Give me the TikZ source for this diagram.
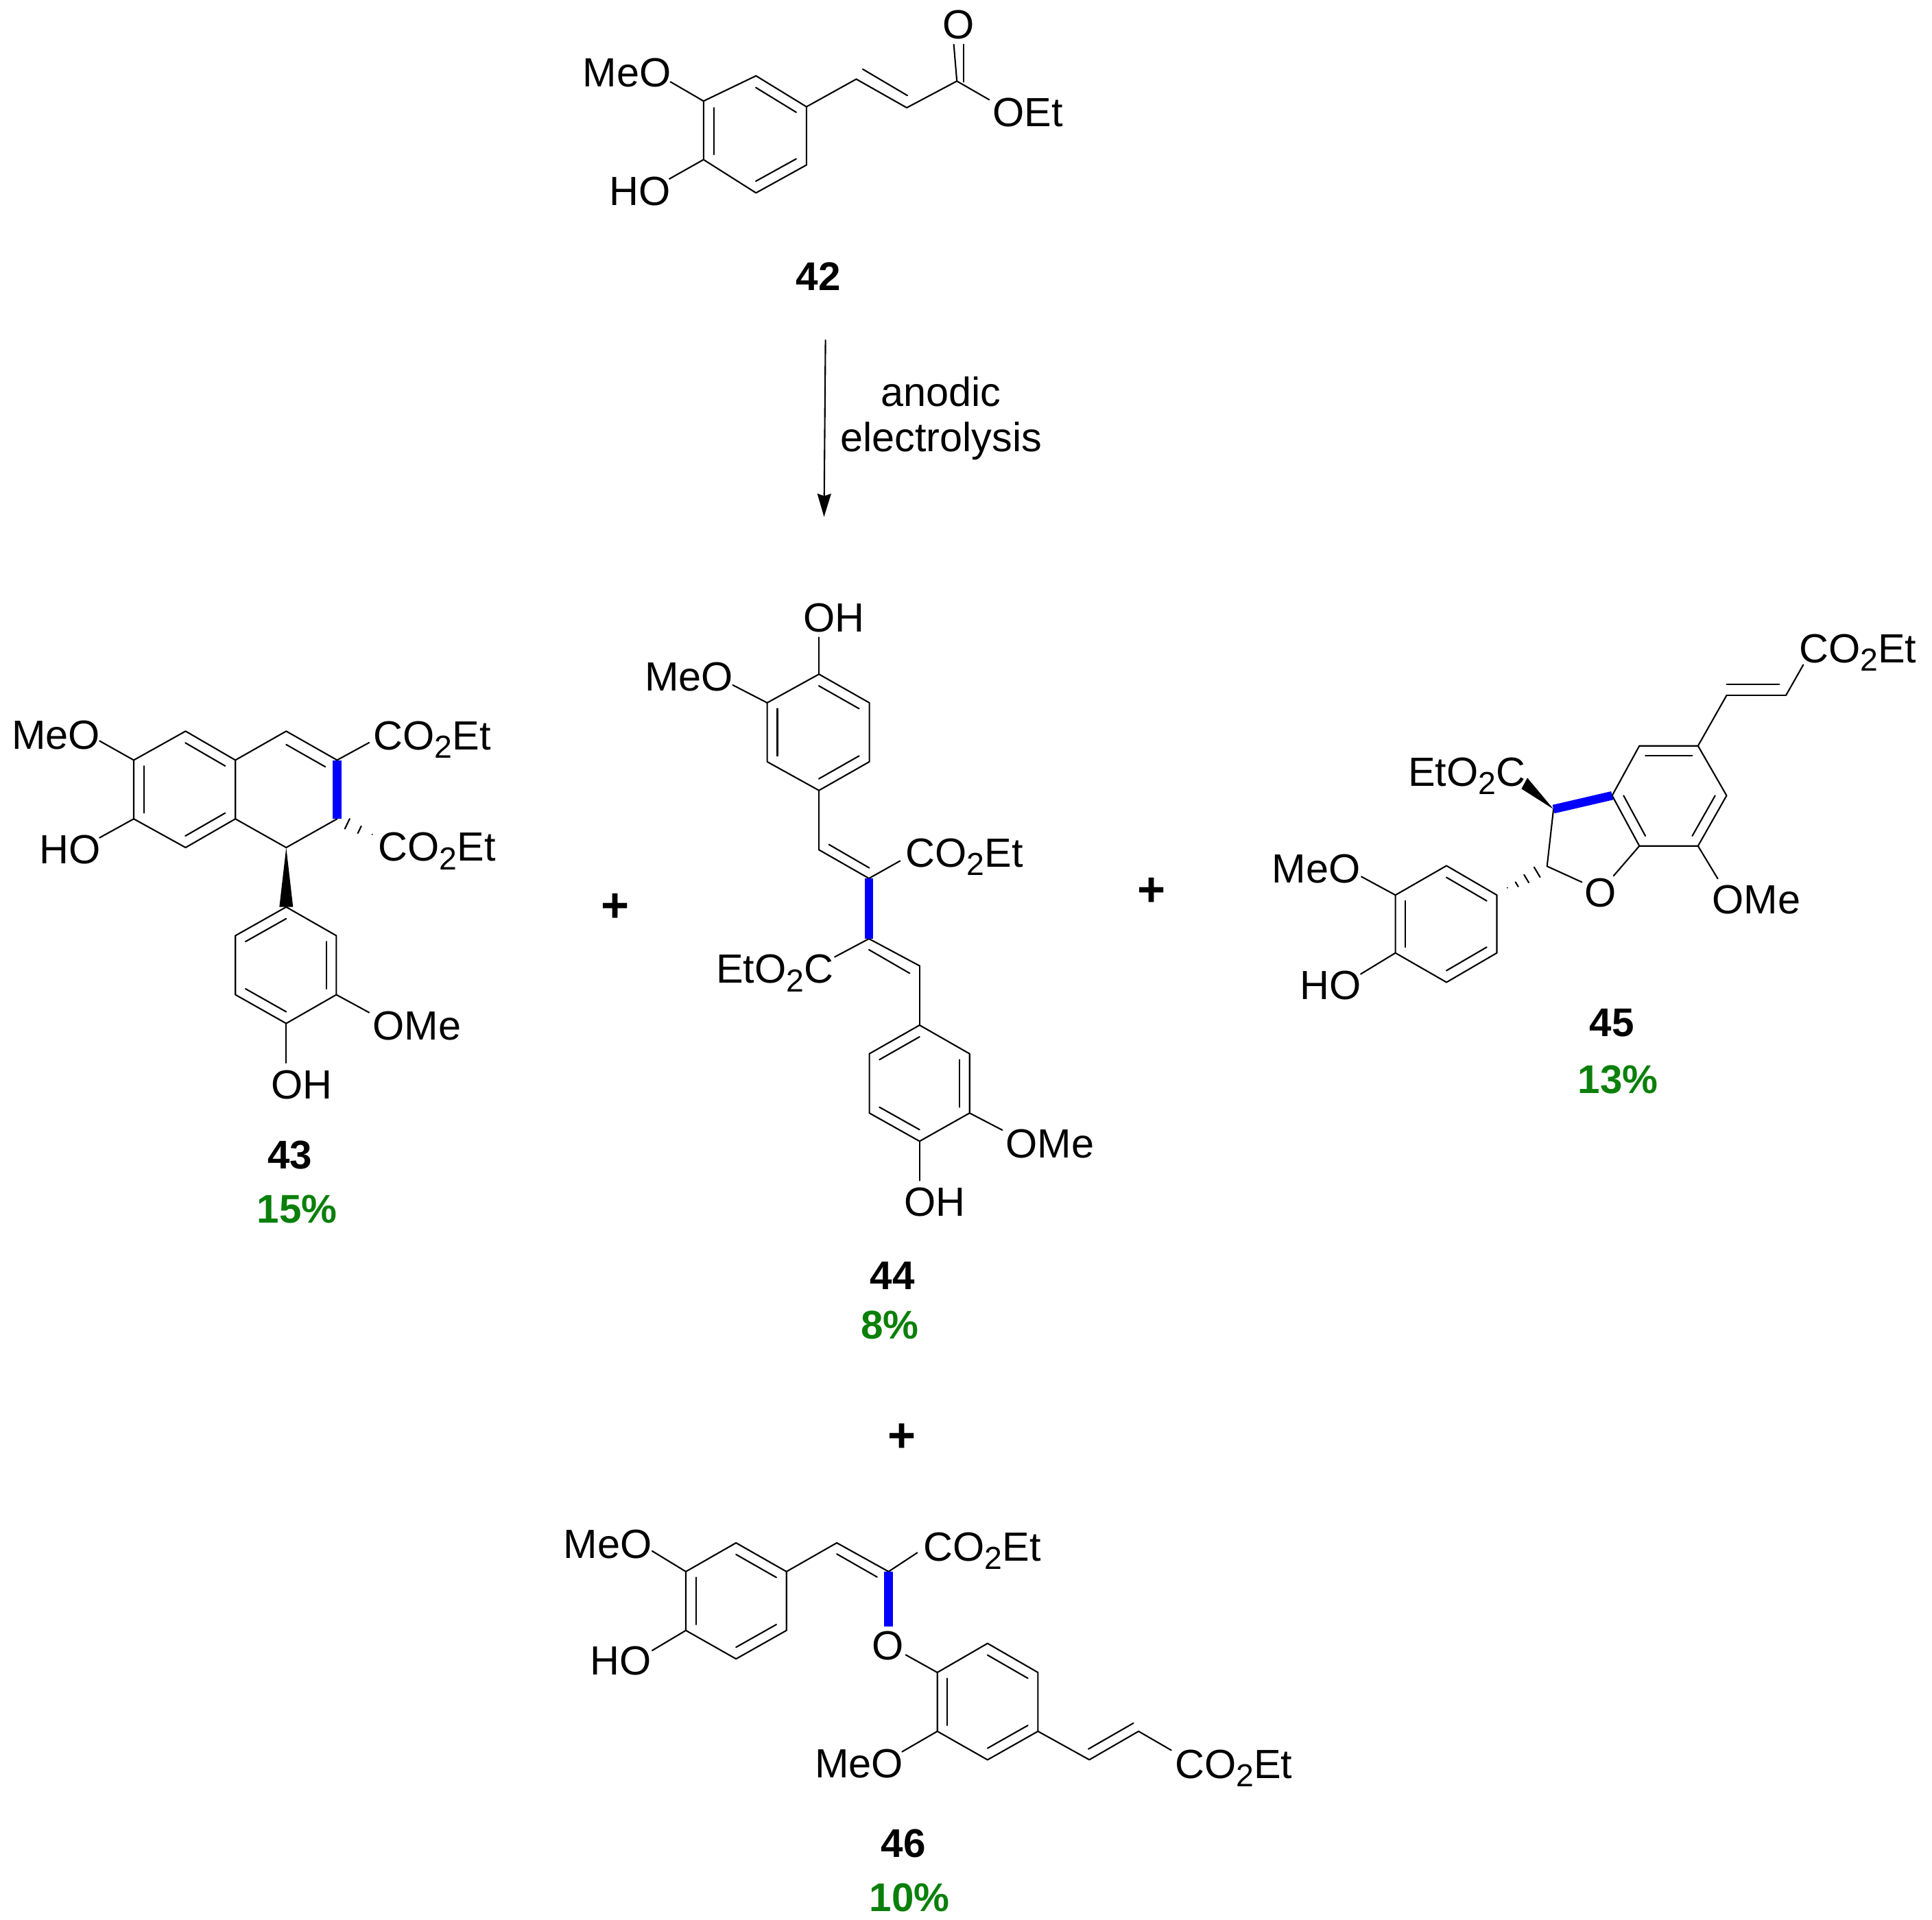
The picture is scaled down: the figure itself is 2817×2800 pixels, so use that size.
\documentclass[tikz,border=0pt]{standalone}
\usepackage{fontspec}
\setmainfont{Liberation Sans}
\usetikzlibrary{calc,arrows.meta}
\definecolor{bondblue}{RGB}{0,0,255}
\definecolor{yieldgreen}{RGB}{10,128,10}
\newcommand{\subtwo}{\raisebox{-3.6pt}{\fontsize{13.2}{13}\selectfont 2}}
\newcommand{\coet}{CO\subtwo Et}
\newcommand{\etoc}{EtO\subtwo C}
\newcommand{\hashbond}[3]{\foreach \pos/\wid in {#3}
	\draw[bond] ($(#1)!\pos!(#2)!\wid pt!90:(#2)$)--($(#1)!\pos!(#2)!\wid pt!-90:(#2)$);}
\newcommand{\innerdbl}[2]{\foreach \p/\q in {#2}
	\draw[bond] ($(\p)!.2!(#1)$)--($(\q)!.2!(#1)$);}
\tikzset{
	bond/.style={line width=.6pt},
	hibond/.style={line width=3.6pt,color=bondblue,line cap=butt},
	lab/.style={inner sep=0pt},
	num/.style={inner sep=0pt,anchor=base,font=\fontsize{16.6}{20}\selectfont\bfseries},
	yield/.style={num,text=yieldgreen},
	plus/.style={inner sep=0pt,font=\fontsize{20}{20}\selectfont\bfseries}
}
\begin{document}
\begin{tikzpicture}[x=.01cm,y=-.01cm,>={Stealth[length=9.6pt,width=5.7pt,inset=1pt]},font=\fontsize{16.9}{20}\selectfont,line join=round,line cap=round]
	\useasboundingbox (0,0) rectangle (2817,2800);
	% 42
	\path (1102.3,110.6) coordinate (a1) (1175.9,155.7) coordinate (a2) (1175.9,240.6) coordinate (a3)
	(1102.3,281.3) coordinate (a4) (1025.8,232.8) coordinate (a5) (1025.8,147.4) coordinate (a6)
	(1101,196) coordinate (ac) (1248.5,115.4) coordinate (a7) (1322.1,157.1) coordinate (a8)
	(1395.2,118.3) coordinate (a9) (1442.4,145.5) coordinate (a10) (977.5,119.3) coordinate (a11)
	(976,260.9) coordinate (a12) (1390.7,65) coordinate (a13) (1404.7,65) coordinate (a15)
	(1404.7,119.3) coordinate (a16) (1258,100.9) coordinate (a17) (1323,139.3) coordinate (a18);
	\draw[bond] (a1)--(a2)--(a3)--(a4)--(a5)--(a6)--cycle;
	\innerdbl{ac}{a1/a2,a3/a4,a5/a6}
	\foreach \p/\q in {a2/a7,a7/a8,a8/a9,a9/a10,a6/a11,a5/a12,a9/a13,a15/a16,a17/a18}
	\draw[bond] (\p)--(\q);
	\node[lab,anchor=base east] (meoA) at (979,127) {MeO};
	\node[lab,anchor=base east] (hoA) at (978,300) {HO};
	\node[lab,anchor=base] (oA) at (1398,56.2) {O};
	\node[lab,anchor=base west] (oetA) at (1447,185) {OEt};
	\node[num] (n42) at (1193,423) {42};
	% arrow
	\coordinate (s1) at (1203.6,496);
	\coordinate (s2) at (1201.5,753.7);
	\draw[bond,->] (s1)--(s2);
	\node[lab,align=center,font=\fontsize{16.9}{18.8}\selectfont] (cond) at (1372,610) {anodic\\electrolysis};
	% 43
	\path (270.6,1066.3) coordinate (b1) (343.2,1108.5) coordinate (b2) (343.2,1194.2) coordinate (b3)
	(270.6,1236) coordinate (b4) (195,1194.2) coordinate (b5) (195,1108.5) coordinate (b6)
	(269,1151.3) coordinate (bc) (417.3,1066.3) coordinate (b7) (491.5,1108.5) coordinate (b8)
	(491.5,1194.2) coordinate (b9) (417.3,1236) coordinate (b10) (417.3,1151.3) coordinate (bd)
	(538.2,1083) coordinate (b11) (542.7,1218.7) coordinate (b12) (145.2,1080.5) coordinate (b13)
	(145.2,1221.7) coordinate (b14) (417.3,1322.7) coordinate (c1) (490.4,1364.5) coordinate (c2)
	(490.4,1450.6) coordinate (c3) (417.3,1492.5) coordinate (c4) (343.2,1450.6) coordinate (c5)
	(343.2,1364.5) coordinate (c6) (417.3,1407.6) coordinate (cc) (407.3,1322.7) coordinate (c7)
	(427.3,1322.7) coordinate (c8) (538.2,1476.6) coordinate (c9) (417.3,1550) coordinate (c10);
	\draw[bond] (b1)--(b2)--(b3)--(b4)--(b5)--(b6)--cycle;
	\draw[bond] (b2)--(b7)--(b8) (b9)--(b10)--(b3);
	\draw[hibond] (b8)--(b9);
	\innerdbl{bc}{b1/b2,b3/b4,b5/b6}
	\draw[bond] ($(b7)!.23!(bd)$)--($(b8)!.23!(bd)$);
	\foreach \p/\q in {b8/b11,b6/b13,b5/b14,c3/c9,c4/c10}
	\draw[bond] (\p)--(\q);
	\hashbond{b9}{b12}{.29/2.3,.64/1.6,1/.5}
	\fill (b10)--(c8)--(c7)--cycle;
	\draw[bond] (c1)--(c2)--(c3)--(c4)--(c5)--(c6)--cycle;
	\innerdbl{cc}{c1/c6,c2/c3,c4/c5}
	\node[lab,anchor=base west] (meoB) at (16.5,1092) {MeO};
	\node[lab,anchor=base east] (hoB) at (147,1259.8) {HO};
	\node[lab,anchor=base west] (coB) at (544,1093) {\coet};
	\node[lab,anchor=base west] (coC) at (551,1255.6) {\coet};
	\node[lab,anchor=base west] (omeB) at (543,1516) {OMe};
	\node[lab,anchor=base west] (ohB) at (395,1602) {OH};
	\node[num] (n43) at (423,1704.5) {43};
	\node[yield] (y43) at (433,1783) {15\%};
	\node[plus] (p1) at (897,1324) {+};
	% 44
	\path (1194.1,983.2) coordinate (d1) (1267.6,1024.9) coordinate (d2) (1267.6,1110.9) coordinate (d3)
	(1194.1,1152.7) coordinate (d4) (1118.6,1110.9) coordinate (d5) (1118.6,1024.9) coordinate (d6)
	(1193,1068) coordinate (dc) (1194.1,929.5) coordinate (d7) (1068.4,999) coordinate (d8)
	(1194.1,1239.3) coordinate (d9) (1267,1281) coordinate (d10) (1208.7,1231.6) coordinate (d11)
	(1267.5,1265.7) coordinate (d12) (1267,1369) coordinate (d13) (1312.3,1255.5) coordinate (d14)
	(1340.8,1408.5) coordinate (d15) (1267,1385) coordinate (d16) (1326.4,1419.4) coordinate (d17)
	(1217,1395.6) coordinate (d18) (1340.8,1495) coordinate (e1) (1413.7,1536.7) coordinate (e2)
	(1413.7,1623.2) coordinate (e3) (1340.8,1664.3) coordinate (e4) (1267.6,1623.2) coordinate (e5)
	(1267.6,1536.7) coordinate (e6) (1340.7,1580) coordinate (ec) (1461.4,1648) coordinate (e7)
	(1340.8,1721.6) coordinate (e8);
	\draw[bond] (d1)--(d2)--(d3)--(d4)--(d5)--(d6)--cycle;
	\innerdbl{dc}{d1/d2,d3/d4,d5/d6}
	\foreach \p/\q in {d1/d7,d6/d8,d4/d9,d9/d10,d11/d12,d10/d14,d13/d15,d16/d17,d13/d18,d15/e1,e3/e7,e4/e8}
	\draw[bond] (\p)--(\q);
	\draw[hibond] (d10)--(d13);
	\draw[bond] (e1)--(e2)--(e3)--(e4)--(e5)--(e6)--cycle;
	\innerdbl{ec}{e1/e6,e2/e3,e4/e5}
	\node[lab,anchor=base west] (ohD) at (1171,921.5) {OH};
	\node[lab,anchor=base east] (meoD) at (1069.5,1007) {MeO};
	\node[lab,anchor=base west] (coD) at (1320,1264) {\coet};
	\node[lab,anchor=base east] (coE) at (1216,1433.5) {\etoc};
	\node[lab,anchor=base west] (omeE) at (1466,1688) {OMe};
	\node[lab,anchor=base west] (ohE) at (1318,1773) {OH};
	\node[num] (n44) at (1301,1880) {44};
	\node[yield] (y44) at (1297.5,1952) {8\%};
	\node[plus] (p2) at (1679,1301) {+};
	% 45
	\path (2390.3,1087.7) coordinate (f1) (2475.8,1087.7) coordinate (f2) (2517.5,1160.2) coordinate (f3)
	(2475.8,1233.7) coordinate (f4) (2390.3,1233.7) coordinate (f5) (2350.6,1160.2) coordinate (f6)
	(2434,1160.5) coordinate (fc) (2517.5,1014.1) coordinate (f7) (2604,1014.1) coordinate (f8)
	(2517.5,997.7) coordinate (f9) (2594.4,997.7) coordinate (f10) (2629.4,969.4) coordinate (f11)
	(2265.1,1180) coordinate (f12) (2255.7,1263.3) coordinate (f13) (2306.4,1286.4) coordinate (f14)
	(2352.6,1277.4) coordinate (f15) (2227,1134.4) coordinate (f16) (2218.4,1150.3) coordinate (f17)
	(2197.8,1298) coordinate (f18) (2504.6,1281.4) coordinate (f19)
	(2109.1,1262.5) coordinate (g1) (2182.5,1305.3) coordinate (g2) (2182.5,1389.7) coordinate (g3)
	(2109.1,1432.5) coordinate (g4) (2034.6,1389.7) coordinate (g5) (2034.6,1305.3) coordinate (g6)
	(2108.5,1347.5) coordinate (gc) (1985,1278.4) coordinate (g7) (1984,1420.5) coordinate (g8);
	\draw[bond] (f1)--(f2)--(f3)--(f4)--(f5)--(f6)--cycle;
	\innerdbl{fc}{f1/f2,f3/f4,f5/f6}
	\foreach \p/\q in {f2/f7,f7/f8,f9/f10,f8/f11,f12/f13,f13/f14,f5/f15,f4/f19,g6/g7,g5/g8}
	\draw[bond] (\p)--(\q);
	\draw[hibond] (f6)--(f12);
	\fill (f12)--(f16)--(f17)--cycle;
	\hashbond{f13}{f18}{.25/2.4,.52/1.9,.76/1.1,1/.95}
	\draw[bond] (g1)--(g2)--(g3)--(g4)--(g5)--(g6)--cycle;
	\innerdbl{gc}{g1/g2,g3/g4,g5/g6}
	\node[lab,anchor=base west] (coF) at (2622.5,966) {\coet};
	\node[lab,anchor=base east] (coG) at (2225,1146) {\etoc};
	\node[lab,anchor=base] (oF) at (2334,1322) {O};
	\node[lab,anchor=base west] (omeF) at (2496,1332) {OMe};
	\node[lab,anchor=base east] (meoG) at (1984,1287) {MeO};
	\node[lab,anchor=base east] (hoG) at (1985,1457) {HO};
	\node[num] (n45) at (2350,1511) {45};
	\node[yield] (y45) at (2359,1594) {13\%};
	\node[plus] (p3) at (1315,2097) {+};
	% 46
	\path (1073.2,2250) coordinate (h1) (1146.7,2291.9) coordinate (h2) (1146.7,2377.7) coordinate (h3)
	(1073.2,2419.2) coordinate (h4) (1000,2377.7) coordinate (h5) (1000,2291.9) coordinate (h6)
	(1073,2334.5) coordinate (hc) (1220.1,2250) coordinate (h7) (1295.6,2291.9) coordinate (h8)
	(1220.1,2266.2) coordinate (h9) (1278.9,2299.8) coordinate (h10) (1295.6,2371.5) coordinate (h11)
	(1337.5,2264.3) coordinate (h12) (950.9,2261.9) coordinate (h13) (950.9,2407) coordinate (h14)
	(1439.9,2396.6) coordinate (k1) (1513.4,2439) coordinate (k2) (1513.4,2524.8) coordinate (k3)
	(1439.9,2566.4) coordinate (k4) (1366.7,2524.8) coordinate (k5) (1366.7,2439) coordinate (k6)
	(1440,2481.7) coordinate (kc) (1320.6,2413.3) coordinate (k7) (1315.3,2554.6) coordinate (k8)
	(1588.3,2566.3) coordinate (k9) (1660.1,2524.8) coordinate (k10) (1587,2550.6) coordinate (k11)
	(1652.6,2512.9) coordinate (k12) (1707.8,2552.4) coordinate (k13);
	\draw[bond] (h1)--(h2)--(h3)--(h4)--(h5)--(h6)--cycle;
	\innerdbl{hc}{h1/h2,h3/h4,h5/h6}
	\foreach \p/\q in {h2/h7,h7/h8,h9/h10,h8/h12,h6/h13,h5/h14,k7/k6,k5/k8,k3/k9,k9/k10,k11/k12,k10/k13}
	\draw[bond] (\p)--(\q);
	\draw[hibond] (h8)--(h11);
	\draw[bond] (k1)--(k2)--(k3)--(k4)--(k5)--(k6)--cycle;
	\innerdbl{kc}{k1/k2,k3/k4,k5/k6}
	\node[lab,anchor=base east] (meoH) at (951,2272) {MeO};
	\node[lab,anchor=base east] (hoH) at (950,2442) {HO};
	\node[lab,anchor=base west] (coH) at (1346,2276) {\coet};
	\node[lab,anchor=base] (oH) at (1294.6,2420) {O};
	\node[lab,anchor=base east] (meoK) at (1317.5,2592) {MeO};
	\node[lab,anchor=base west] (coK) at (1712.5,2593) {\coet};
	\node[num] (n46) at (1317,2708) {46};
	\node[yield] (y46) at (1326,2787) {10\%};
\end{tikzpicture}
\end{document}
